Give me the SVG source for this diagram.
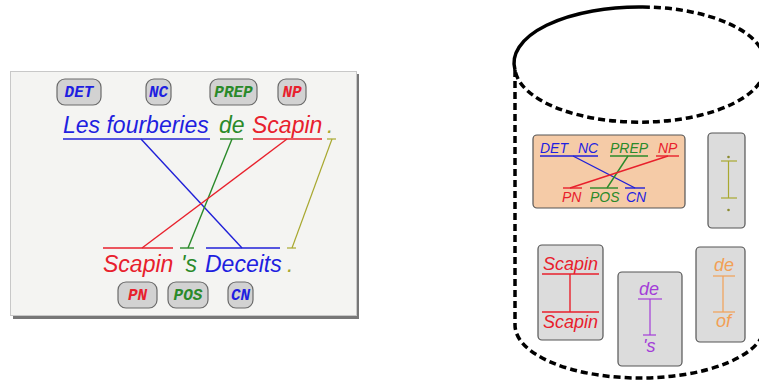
<svg xmlns="http://www.w3.org/2000/svg" width="759" height="383" viewBox="0 0 759 383">
<style>
.w{font-family:"Liberation Sans",Arial,sans-serif;font-style:italic;font-size:23px}
.tag rect{fill:#d2d2d2;stroke:#6a6a6a;stroke-width:1.2}
.tag text{font-family:"Liberation Mono","Courier New",monospace;font-weight:bold;font-style:italic;font-size:16px;text-anchor:middle}
.s{font-family:"Liberation Sans",Arial,sans-serif;font-style:italic}
.box{fill:#dcdcdc;stroke:#555;stroke-width:1.2}
.b{fill:#1f1fe0}.r{fill:#e8202c}.g{fill:#2a8a2a}.o{fill:#a8a830}.p{fill:#a33cd8}.or{fill:#f2a055}
.lb{stroke:#2020d8;stroke-width:1.4;fill:none}
.lr{stroke:#e8202c;stroke-width:1.4;fill:none}
.lg{stroke:#2a8a2a;stroke-width:1.4;fill:none}
.lo{stroke:#a8a830;stroke-width:1.2;fill:none}
.lp{stroke:#a33cd8;stroke-width:1.2;fill:none}
.lor{stroke:#f2a055;stroke-width:1.2;fill:none}
.cyl{fill:none;stroke:#000;stroke-width:3.5;stroke-dasharray:7 4}
</style>
<rect width="759" height="383" fill="#fff"/>
<g id="panel">
<rect x="13" y="74" width="346" height="245" fill="#777"/>
<rect x="10.5" y="71.5" width="346" height="244" fill="#f4f4f2" stroke="#c8c8c8" stroke-width="1"/>
</g>
<g id="src-tags" class="tag">
<g id="tag-DET"><rect x="57" y="79" width="44" height="26" rx="8"/><text x="79" y="97" class="b">DET</text></g>
<g id="tag-NC"><rect x="146" y="79" width="25" height="26" rx="8"/><text x="158.5" y="97" class="b">NC</text></g>
<g id="tag-PREP"><rect x="210" y="79" width="47" height="26" rx="8"/><text x="233.5" y="97" class="g">PREP</text></g>
<g id="tag-NP"><rect x="278" y="79" width="28" height="26" rx="8"/><text x="292" y="97" class="r">NP</text></g>
</g>
<g id="tgt-tags" class="tag">
<g id="tag-PN"><rect x="118" y="282" width="39" height="26" rx="8"/><text x="137.5" y="300" class="r">PN</text></g>
<g id="tag-POS"><rect x="168" y="282" width="40" height="26" rx="8"/><text x="188" y="300" class="g">POS</text></g>
<g id="tag-CN"><rect x="228" y="282" width="25" height="26" rx="8"/><text x="240.5" y="300" class="b">CN</text></g>
</g>
<g id="src-words" class="w">
<g id="w-les"><text x="63" y="133" class="b">Les fourberies</text></g>
<g id="w-de"><text x="219" y="133" class="g">de</text></g>
<g id="w-scapin"><text x="252" y="133" class="r">Scapin</text></g>
<g id="w-dot"><text x="327" y="133" class="o">.</text></g>
</g>
<g id="tgt-words" class="w">
<g id="w-scapin2"><text x="103" y="272" class="r">Scapin</text></g>
<g id="w-s"><text x="181" y="272" class="g">'s</text></g>
<g id="w-deceits"><text x="205" y="272" class="b">Deceits</text></g>
<g id="w-dot2"><text x="287" y="272" class="o">.</text></g>
</g>
<g id="connectors">
<line class="lb" x1="63" y1="139" x2="210" y2="139"/>
<line class="lg" x1="220" y1="139" x2="243" y2="139"/>
<line class="lr" x1="253" y1="139" x2="322" y2="139"/>
<line class="lo" x1="327" y1="139" x2="336" y2="139"/>
<line class="lr" x1="103" y1="248" x2="173" y2="248"/>
<line class="lg" x1="180" y1="248" x2="194" y2="248"/>
<line class="lb" x1="206" y1="248" x2="280" y2="248"/>
<line class="lo" x1="287" y1="248" x2="296" y2="248"/>
<line class="lb" x1="141" y1="139" x2="242" y2="248"/>
<line class="lg" x1="232" y1="139" x2="188" y2="248"/>
<line class="lr" x1="287" y1="139" x2="142" y2="248"/>
<line class="lo" x1="332" y1="139" x2="292" y2="248"/>
</g>
<g id="cylinder">
<path d="M515 70 A125 56 0 0 1 643 7" fill="none" stroke="#000" stroke-width="3.5"/>
<path class="cyl" d="M643 7 A125 56 0 0 1 765 62 A125 56 0 0 1 515 70"/>
<path class="cyl" d="M515 70 L515 325 A125 53 0 0 0 765 325"/>
</g>
<g id="rule-tags">
<rect x="533" y="135" width="152" height="73" rx="4" fill="#f5cba7" stroke="#555" stroke-width="1.2"/>
<g class="s" font-size="14">
<text x="540" y="153" class="b">DET</text>
<text x="578" y="153" class="b">NC</text>
<text x="610" y="153" class="g">PREP</text>
<text x="658" y="153" class="r">NP</text>
<text x="562" y="202" class="r">PN</text>
<text x="590" y="202" class="g">POS</text>
<text x="626" y="202" class="b">CN</text>
</g>
<line class="lb" x1="540" y1="156" x2="598" y2="156"/>
<line class="lg" x1="610" y1="156" x2="648" y2="156"/>
<line class="lr" x1="656" y1="156" x2="679" y2="156"/>
<line class="lr" x1="563" y1="188" x2="582" y2="188"/>
<line class="lg" x1="590" y1="188" x2="618" y2="188"/>
<line class="lb" x1="625" y1="188" x2="645" y2="188"/>
<line class="lb" x1="573" y1="156" x2="635" y2="188"/>
<line class="lg" x1="628" y1="156" x2="607" y2="188"/>
<line class="lr" x1="668" y1="156" x2="570" y2="188"/>
</g>
<g id="rule-dot">
<rect class="box" x="708" y="133" width="37" height="95" rx="4"/>
<circle cx="728.5" cy="157" r="1.3" fill="#8a8a30"/>
<circle cx="728.5" cy="210" r="1.3" fill="#8a8a30"/>
<line class="lo" x1="721" y1="161" x2="737" y2="161"/>
<line class="lo" x1="728.5" y1="161" x2="728.5" y2="198"/>
<line class="lo" x1="721" y1="198" x2="737" y2="198"/>
</g>
<g id="rule-scapin">
<rect class="box" x="538" y="245" width="65" height="95" rx="4"/>
<g class="s r" font-size="18">
<text x="543" y="270">Scapin</text>
<text x="543" y="328">Scapin</text>
</g>
<line class="lr" x1="542" y1="274" x2="599" y2="274"/>
<line class="lr" x1="570" y1="274" x2="570" y2="312"/>
<line class="lr" x1="542" y1="312" x2="599" y2="312"/>
</g>
<g id="rule-de-s">
<rect class="box" x="618" y="272" width="64" height="94" rx="4"/>
<g class="s p" font-size="18">
<text x="639" y="295">de</text>
<text x="643" y="352">'s</text>
</g>
<line class="lp" x1="638" y1="299" x2="662" y2="299"/>
<line class="lp" x1="650" y1="299" x2="650" y2="335"/>
<line class="lp" x1="643" y1="335" x2="656" y2="335"/>
</g>
<g id="rule-de-of">
<rect class="box" x="696" y="247" width="49" height="95" rx="4"/>
<g class="s or" font-size="18">
<text x="714" y="271">de</text>
<text x="716" y="327">of</text>
</g>
<line class="lor" x1="713" y1="276" x2="735" y2="276"/>
<line class="lor" x1="723" y1="276" x2="723" y2="312"/>
<line class="lor" x1="713" y1="312" x2="735" y2="312"/>
</g>
</svg>
